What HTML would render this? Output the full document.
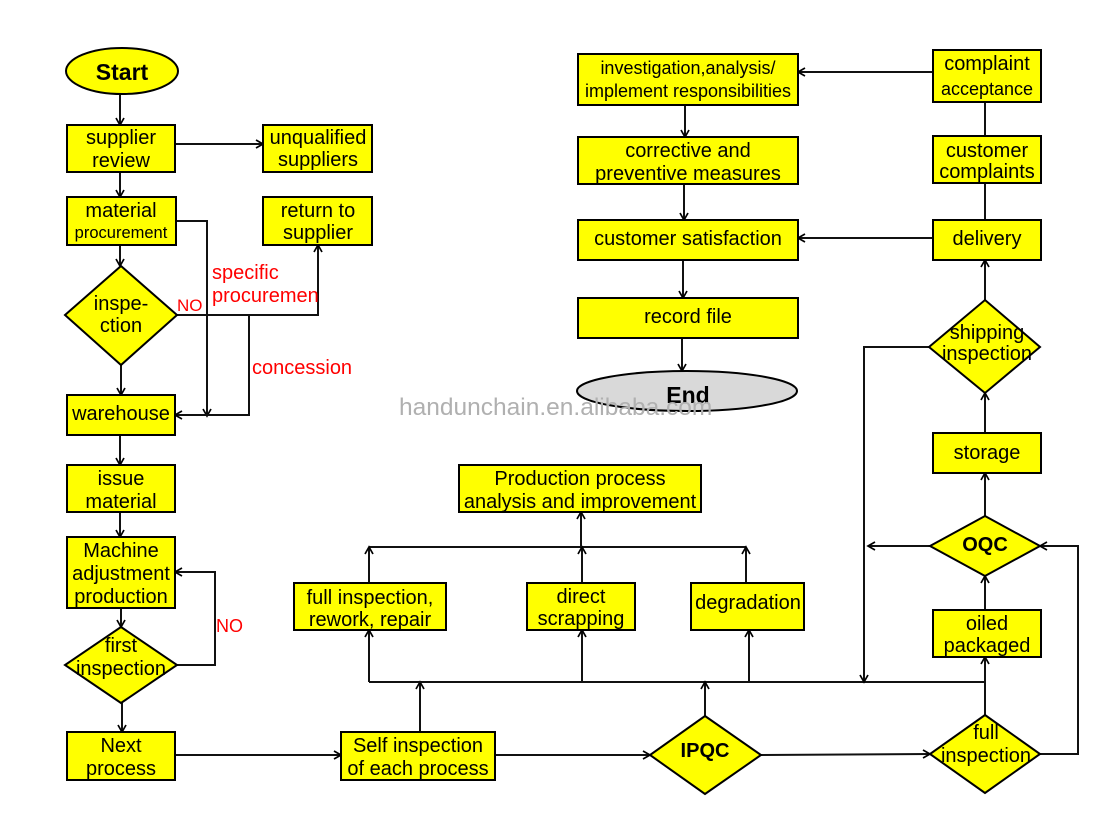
<!DOCTYPE html>
<html><head><meta charset="utf-8"><style>
html,body{margin:0;padding:0;background:#fff;}
svg{display:block;}
text{font-family:"Liberation Sans",Arial,sans-serif;fill:#000;}
</style></head><body>
<svg width="1113" height="816" viewBox="0 0 1113 816" xmlns="http://www.w3.org/2000/svg">
<defs>
<marker id="a" markerWidth="12" markerHeight="12" refX="10" refY="6" orient="auto" markerUnits="userSpaceOnUse"><path d="M3,2 L10,6 L3,10" fill="none" stroke="#000" stroke-width="1.7"/></marker>
</defs>
<rect width="1113" height="816" fill="#fff"/>

<!-- connectors -->
<g fill="none" stroke="#111" stroke-width="2">
<line x1="120" y1="94" x2="120" y2="125" marker-end="url(#a)"/>
<line x1="120" y1="172" x2="120" y2="197" marker-end="url(#a)"/>
<line x1="175" y1="144" x2="263" y2="144" marker-end="url(#a)"/>
<line x1="120" y1="245" x2="120" y2="266" marker-end="url(#a)"/>
<polyline points="176,221 207,221 207,416" marker-end="url(#a)"/>
<polyline points="177,315 318,315 318,245" marker-end="url(#a)"/>
<polyline points="249,315 249,415 175,415" marker-end="url(#a)"/>
<line x1="121" y1="365" x2="121" y2="395" marker-end="url(#a)"/>
<line x1="120" y1="435" x2="120" y2="465" marker-end="url(#a)"/>
<line x1="120" y1="512" x2="120" y2="537" marker-end="url(#a)"/>
<line x1="121" y1="608" x2="121" y2="627" marker-end="url(#a)"/>
<polyline points="177,665 215,665 215,572 175,572" marker-end="url(#a)"/>
<line x1="122" y1="703" x2="122" y2="732" marker-end="url(#a)"/>
<line x1="175" y1="755" x2="341" y2="755" marker-end="url(#a)"/>
<line x1="495" y1="755" x2="650" y2="755" marker-end="url(#a)"/>
<line x1="761" y1="755" x2="930" y2="754" marker-end="url(#a)"/>
<line x1="420" y1="732" x2="420" y2="682" marker-end="url(#a)"/>
<line x1="369" y1="682" x2="985" y2="682"/>
<line x1="369" y1="682" x2="369" y2="630" marker-end="url(#a)"/>
<line x1="582" y1="682" x2="582" y2="630" marker-end="url(#a)"/>
<line x1="749" y1="682" x2="749" y2="630" marker-end="url(#a)"/>
<line x1="705" y1="716" x2="705" y2="682" marker-end="url(#a)"/>
<line x1="985" y1="715" x2="985" y2="657" marker-end="url(#a)"/>
<polyline points="929,347 864,347 864,682" marker-end="url(#a)"/>
<line x1="369" y1="547" x2="746" y2="547"/>
<line x1="369" y1="583" x2="369" y2="547" marker-end="url(#a)"/>
<line x1="582" y1="583" x2="582" y2="547" marker-end="url(#a)"/>
<line x1="746" y1="583" x2="746" y2="547" marker-end="url(#a)"/>
<line x1="581" y1="547" x2="581" y2="512" marker-end="url(#a)"/>
<polyline points="1040,754 1078,754 1078,546 1040,546" marker-end="url(#a)"/>
<line x1="930" y1="546" x2="868" y2="546" marker-end="url(#a)"/>
<line x1="985" y1="610" x2="985" y2="576" marker-end="url(#a)"/>
<line x1="985" y1="516" x2="985" y2="473" marker-end="url(#a)"/>
<line x1="985" y1="433" x2="985" y2="393" marker-end="url(#a)"/>
<line x1="985" y1="300" x2="985" y2="260" marker-end="url(#a)"/>
<line x1="985" y1="220" x2="985" y2="183"/>
<line x1="985" y1="136" x2="985" y2="102"/>
<line x1="933" y1="72" x2="798" y2="72" marker-end="url(#a)"/>
<line x1="933" y1="238" x2="798" y2="238" marker-end="url(#a)"/>
<line x1="685" y1="105" x2="685" y2="137" marker-end="url(#a)"/>
<line x1="684" y1="184" x2="684" y2="220" marker-end="url(#a)"/>
<line x1="683" y1="260" x2="683" y2="298" marker-end="url(#a)"/>
<line x1="682" y1="338" x2="682" y2="371" marker-end="url(#a)"/>
</g>

<!-- shapes -->
<g fill="#ffff00" stroke="#000" stroke-width="2">
<ellipse cx="122" cy="71" rx="56" ry="23"/>
<rect x="67" y="125" width="108" height="47"/>
<rect x="263" y="125" width="109" height="47"/>
<rect x="67" y="197" width="109" height="48"/>
<rect x="263" y="197" width="109" height="48"/>
<polygon points="121,266 177,315 121,365 65,315"/>
<rect x="67" y="395" width="108" height="40"/>
<rect x="67" y="465" width="108" height="47"/>
<rect x="67" y="537" width="108" height="71"/>
<polygon points="121,627 177,665 121,703 65,665"/>
<rect x="67" y="732" width="108" height="48"/>
<rect x="341" y="732" width="154" height="48"/>
<polygon points="705,716 761,755 705,794 650,755"/>
<polygon points="985,715 1040,754 985,793 930,754"/>
<rect x="933" y="610" width="108" height="47"/>
<polygon points="985,516 1040,546 985,576 930,546"/>
<rect x="933" y="433" width="108" height="40"/>
<polygon points="985,300 1040,347 985,393 929,347"/>
<rect x="933" y="220" width="108" height="40"/>
<rect x="933" y="136" width="108" height="47"/>
<rect x="933" y="50" width="108" height="52"/>
<rect x="578" y="54" width="220" height="51"/>
<rect x="578" y="137" width="220" height="47"/>
<rect x="578" y="220" width="220" height="40"/>
<rect x="578" y="298" width="220" height="40"/>
<rect x="459" y="465" width="242" height="47"/>
<rect x="294" y="583" width="152" height="47"/>
<rect x="527" y="583" width="108" height="47"/>
<rect x="691" y="583" width="113" height="47"/>
</g>
<ellipse cx="687" cy="391" rx="110" ry="20" fill="#d9d9d9" stroke="#000" stroke-width="2"/>

<!-- text -->
<g font-size="20" text-anchor="middle">
<text x="122" y="80" font-weight="bold" font-size="23">Start</text>
<text x="121" y="144">supplier</text><text x="121" y="167">review</text>
<text x="318" y="144">unqualified</text><text x="318" y="166">suppliers</text>
<text x="121" y="217">material</text><text x="121" y="238" font-size="16.5">procurement</text>
<text x="318" y="217">return to</text><text x="318" y="239">supplier</text>
<text x="121" y="310">inspe-</text><text x="121" y="332">ction</text>
<text x="121" y="420">warehouse</text>
<text x="121" y="485">issue</text><text x="121" y="508">material</text>
<text x="121" y="557">Machine</text><text x="121" y="580">adjustment</text><text x="121" y="603">production</text>
<text x="121" y="652">first</text><text x="121" y="675">inspection</text>
<text x="121" y="752">Next</text><text x="121" y="775">process</text>
<text x="418" y="752">Self inspection</text><text x="418" y="775">of each process</text>
<text x="705" y="757" font-weight="bold">IPQC</text>
<text x="370" y="604">full inspection,</text><text x="370" y="626">rework, repair</text>
<text x="581" y="603">direct</text><text x="581" y="625">scrapping</text>
<text x="748" y="609">degradation</text>
<text x="580" y="485">Production process</text><text x="580" y="508">analysis and improvement</text>
<text x="986" y="739">full</text><text x="986" y="762">inspection</text>
<text x="987" y="630">oiled</text><text x="987" y="652">packaged</text>
<text x="985" y="551" font-weight="bold">OQC</text>
<text x="987" y="459">storage</text>
<text x="987" y="339">shipping</text><text x="987" y="360">inspection</text>
<text x="987" y="245">delivery</text>
<text x="987" y="157">customer</text><text x="987" y="178">complaints</text>
<text x="987" y="70">complaint</text><text x="987" y="95" font-size="18">acceptance</text>
<text x="688" y="74" font-size="18">investigation,analysis/</text><text x="688" y="97" font-size="18">implement responsibilities</text>
<text x="688" y="157">corrective and</text><text x="688" y="180">preventive measures</text>
<text x="688" y="245">customer satisfaction</text>
<text x="688" y="323">record file</text>
<text x="688" y="403" font-weight="bold" font-size="23">End</text>
</g>
<g font-size="20" fill="#ff0000">
<text x="212" y="279" style="fill:#ff0000">specific</text>
<text x="212" y="302" style="fill:#ff0000">procuremen</text>
<text x="252" y="374" style="fill:#ff0000">concession</text>
<text x="177" y="311" font-size="17" style="fill:#ff0000">NO</text>
<text x="216" y="632" font-size="18" style="fill:#ff0000">NO</text>
</g>
<text x="399" y="415" font-size="24.5" style="fill:#b0b0b0">handunchain.en.alibaba.com</text>
</svg>
</body></html>
